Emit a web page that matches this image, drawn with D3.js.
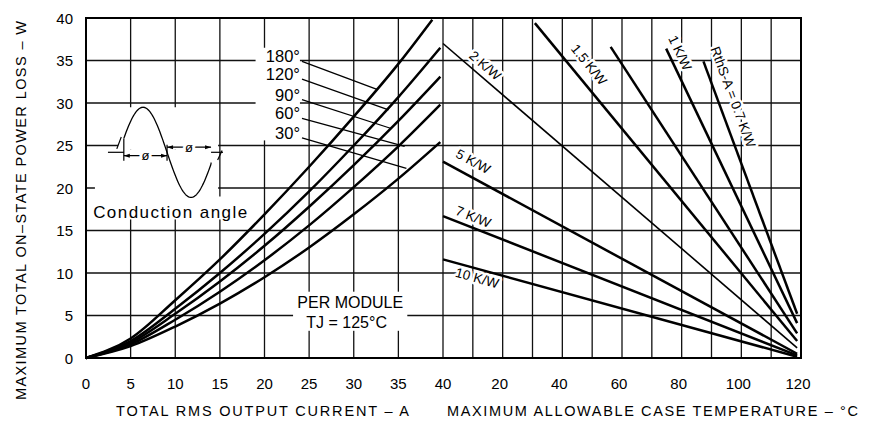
<!DOCTYPE html>
<html lang="en">
<head>
<meta charset="UTF-8">
<title>On-state power loss vs current and case temperature</title>
<script src="https://d3js.org/d3.v7.min.js"></script>
<style>
  body { margin: 0; background: #fff; }
  svg { display: block; font-family: "Liberation Sans", Arial, sans-serif; fill: #000; }
  .grid line { stroke: #111; stroke-width: 1.3; }
  .frame { fill: none; stroke: #000; stroke-width: 2; }
  .curve { fill: none; stroke: #000; stroke-width: 2.5; }
  .leader { stroke: #000; stroke-width: 1.3; }
  .sink { stroke: #000; stroke-width: 2.5; }
  .sink.thin { stroke-width: 1.6; }
  .mask { fill: #fff; }
  .tick { font-size: 15px; }
  .title { font-size: 14.5px; }
  .halo { paint-order: stroke; stroke: #fff; stroke-width: 5px; stroke-linejoin: round; }
</style>
</head>
<body>
<svg id="chart" width="871" height="422"></svg>
<script>
// ticks
const powerTicks = [0, 5, 10, 15, 20, 25, 30, 35, 40];
const currentTicks = [0, 5, 10, 15, 20, 25, 30, 35, 40];
const tempTicks = [20, 40, 60, 80, 100, 120];
const tempGrid = [10, 20, 30, 40, 50, 60, 70, 80, 90, 100, 110];

// left panel: power loss per conduction angle, [current A, power W]
const angleNames = ["180°", "120°", "90°", "60°", "30°"];
const curve180 = [[0, 0], [5, 2.3], [10, 6.8], [15, 11.6], [20, 16.9], [25, 22.5], [30, 28.4], [35, 34.6], [38.8, 39.8]];
const curve120 = [[0, 0], [5, 2.0], [10, 5.8], [15, 10.0], [20, 14.6], [25, 19.6], [30, 25.0], [35, 30.7], [39.7, 36.5]];
const curve90 = [[0, 0], [5, 1.8], [10, 5.2], [15, 9.0], [20, 13.2], [25, 17.8], [30, 22.7], [35, 27.9], [39.7, 33.1]];
const curve60 = [[0, 0], [5, 1.6], [10, 4.5], [15, 7.8], [20, 11.5], [25, 15.6], [30, 20.1], [35, 24.9], [39.7, 29.8]];
const curve30 = [[0, 0], [5, 1.4], [10, 3.7], [15, 6.4], [20, 9.5], [25, 13.0], [30, 16.9], [35, 21.1], [39.7, 25.4]];
const curves = [curve180, curve120, curve90, curve60, curve30];
const leaderFrom = [[24.2, 34.9], [24.2, 32.8], [24.2, 30.4], [24.2, 28.2], [24.2, 25.9]];
const leaderTo = [[32.6, 31.6], [33.9, 29.2], [34.2, 27.0], [35.7, 24.9], [35.9, 22.3]];

// right panel: heatsink lines, [case temperature °C, power W]
const sinkNames = ["RthS-A = 0.7 K/W", "1 K/W", "", "1.5 K/W", "2 K/W", "5 K/W", "7 K/W", "10 K/W"];
const sinkFrom = [[87.3, 34.9], [74.8, 36.4], [56.2, 36.6], [30.8, 39.4], [0, 37.0], [0, 23.1], [0, 16.7], [0, 11.6]];
const sinkTo = [[118.7, 5.2], [118.7, 4.1], [118.7, 2.9], [118.7, 2.0], [118.7, 1.2], [118.7, 0.5], [118.7, 0.3], [118.7, 0.15]];
const sinkLabelAt = [[97.2, 30.7], [79.4, 35.9], null, [48.9, 34.5], [14.1, 34.4], [10.1, 23.1], [10.1, 16.6], [11.4, 9.4]];

const svg = d3.select("#chart");
const xA = d3.scaleLinear().domain([0, 40]).range([86, 443]);
const xT = d3.scaleLinear().domain([0, 120]).range([443, 801]);
const y = d3.scaleLinear().domain([0, 40]).range([358, 18]);

// grid
const grid = svg.append("g").attr("class", "grid");
grid.selectAll(".h").data(powerTicks.slice(1, -1)).join("line")
  .attr("x1", xA(0)).attr("x2", xT(120))
  .attr("y1", d => y(d)).attr("y2", d => y(d));
grid.selectAll(".va").data(currentTicks.slice(1)).join("line")
  .attr("x1", d => xA(d)).attr("x2", d => xA(d))
  .attr("y1", y(0)).attr("y2", y(40));
grid.selectAll(".vt").data(tempGrid).join("line")
  .attr("x1", d => xT(d)).attr("x2", d => xT(d))
  .attr("y1", y(0)).attr("y2", y(40));

// white patches where the grid is interrupted by annotations
const masks = [
  [1.0, 14.8, 16.5, 24.5], [3.6, 14.8, 24.5, 29.5], [0.5, 18.4, 16.3, 19.0],
  [19.0, 23.97, 25.6, 36.5], [23.2, 36.0, 3.2, 7.8]
];
svg.selectAll(".mask").data(masks).join("rect").attr("class", "mask")
  .attr("x", d => xA(d[0])).attr("width", d => xA(d[1]) - xA(d[0]))
  .attr("y", d => y(d[3])).attr("height", d => y(d[2]) - y(d[3]));

svg.append("rect").attr("class", "frame")
  .attr("x", xA(0)).attr("y", y(40))
  .attr("width", xT(120) - xA(0)).attr("height", y(0) - y(40));

// curves
const line = d3.line().x(d => xA(d[0])).y(d => y(d[1])).curve(d3.curveMonotoneX);
svg.selectAll(".curve").data(curves).join("path").attr("class", "curve").attr("d", line);

// angle labels and leaders
svg.selectAll(".leader").data(leaderFrom).join("line").attr("class", "leader")
  .attr("x1", d => xA(d[0])).attr("y1", d => y(d[1]))
  .attr("x2", (d, i) => xA(leaderTo[i][0])).attr("y2", (d, i) => y(leaderTo[i][1]));
svg.selectAll(".angle").data(angleNames).join("text").attr("class", "angle")
  .attr("x", (d, i) => xA(leaderFrom[i][0]) - 2)
  .attr("y", (d, i) => y(leaderFrom[i][1]) + 1)
  .attr("text-anchor", "end").attr("font-size", 16.5)
  .text(d => d);

// heatsink lines
svg.selectAll(".sink").data(sinkFrom).join("line")
  .attr("class", (d, i) => i === 4 ? "sink thin" : "sink")
  .attr("x1", d => xT(d[0])).attr("y1", d => y(d[1]))
  .attr("x2", (d, i) => xT(sinkTo[i][0])).attr("y2", (d, i) => y(sinkTo[i][1]));
sinkNames.forEach((name, i) => {
  if (!sinkLabelAt[i]) return;
  const dx = xT(sinkTo[i][0]) - xT(sinkFrom[i][0]);
  const dy = y(sinkTo[i][1]) - y(sinkFrom[i][1]);
  const ang = Math.atan2(dy, dx) * 180 / Math.PI;
  svg.append("text").attr("class", "halo")
    .attr("transform", `translate(${xT(sinkLabelAt[i][0])},${y(sinkLabelAt[i][1])}) rotate(${ang})`)
    .attr("text-anchor", "middle").attr("dominant-baseline", "central")
    .attr("font-size", 13.5).text(name);
});

// conduction angle inset
const axisW = 24.2, zeroA = 9.08, quarterA = 2.69, ampW = 5.3;
const phaseA = p => zeroA + (p - 180) / 90 * quarterA;
const wave = d3.range(18, 346, 3).map(p => [phaseA(p), axisW + ampW * Math.sin(p * Math.PI / 180)]);
const g = svg.append("g").attr("stroke", "#000").attr("fill", "none");
g.append("path").attr("stroke-width", 1.3)
  .attr("d", d3.line().x(d => xA(d[0])).y(d => y(d[1]))(wave));
const a0 = phaseA(18), a1 = phaseA(180), a2 = phaseA(345);
const segs = [
  [[2.46, axisW], [a0, axisW]], [[a2, axisW], [15.35, axisW]],
  [[a0, 23.2], [a0, axisW + ampW * Math.sin(18 * Math.PI / 180)]],
  [[a1, 23.2], [a1, 25.1]],
  [[a2, 23.0], [a2, axisW + ampW * Math.sin(345 * Math.PI / 180)]],
  [[a0, 23.8], [a1, 23.8]], [[a1, 24.8], [a2, 24.8]],
  [[3.45, 24.6], [3.95, 26.0]], [[14.75, 23.3], [15.25, 24.4]]
];
g.selectAll(".seg").data(segs).join("line").attr("stroke-width", 1.2)
  .attr("x1", d => xA(d[0][0])).attr("y1", d => y(d[0][1]))
  .attr("x2", d => xA(d[1][0])).attr("y2", d => y(d[1][1]));
const arrows = [[a0, 23.8, 1], [a1, 23.8, -1], [a1, 24.8, 1], [a2, 24.8, -1]];
svg.selectAll(".arr").data(arrows).join("path")
  .attr("d", d => {
    const x0 = xA(d[0]), y0 = y(d[1]);
    return `M${x0},${y0}l${6 * d[2]},-2l0,4z`;
  });
const phiAt = [[(a0 + a1) / 2, 23.8], [(a1 + a2) / 2, 24.8]];
svg.selectAll(".phi").data(phiAt).join("text")
  .attr("x", d => xA(d[0])).attr("y", d => y(d[1]))
  .attr("text-anchor", "middle").attr("dominant-baseline", "central")
  .attr("font-size", 13)
  .attr("class", "halo").style("stroke-width", "6px")
  .text("ø");
svg.append("text").attr("x", xA(0.8)).attr("y", y(16.5))
  .attr("font-size", 17).attr("textLength", 154).text("Conduction angle");

// per module note
svg.append("text").attr("x", xA(29.6)).attr("y", y(5.9))
  .attr("text-anchor", "middle").attr("font-size", 16).text("PER MODULE");
svg.append("text").attr("x", xA(29.2)).attr("y", y(3.55))
  .attr("text-anchor", "middle").attr("font-size", 16).text("TJ = 125°C");

// tick labels
svg.selectAll(".ty").data(powerTicks).join("text").attr("class", "tick")
  .attr("x", 73).attr("y", d => y(d)).attr("text-anchor", "end")
  .attr("dominant-baseline", "central").text(d => d);
svg.selectAll(".tx").data(currentTicks).join("text").attr("class", "tick")
  .attr("x", d => xA(d)).attr("y", 389).attr("text-anchor", "middle").text(d => d);
svg.selectAll(".tt").data(tempTicks).join("text").attr("class", "tick")
  .attr("x", d => xT(d) - 3).attr("y", 389).attr("text-anchor", "middle").text(d => d);

// axis titles
svg.append("text").attr("class", "title")
  .attr("transform", "translate(26,400) rotate(-90)")
  .attr("textLength", 379).text("MAXIMUM TOTAL ON–STATE POWER LOSS – W");
svg.append("text").attr("class", "title").attr("x", 116).attr("y", 416)
  .attr("textLength", 293).text("TOTAL RMS OUTPUT CURRENT – A");
svg.append("text").attr("class", "title").attr("x", 447).attr("y", 416)
  .attr("textLength", 411).text("MAXIMUM ALLOWABLE CASE TEMPERATURE – °C");
</script>
</body>
</html>
